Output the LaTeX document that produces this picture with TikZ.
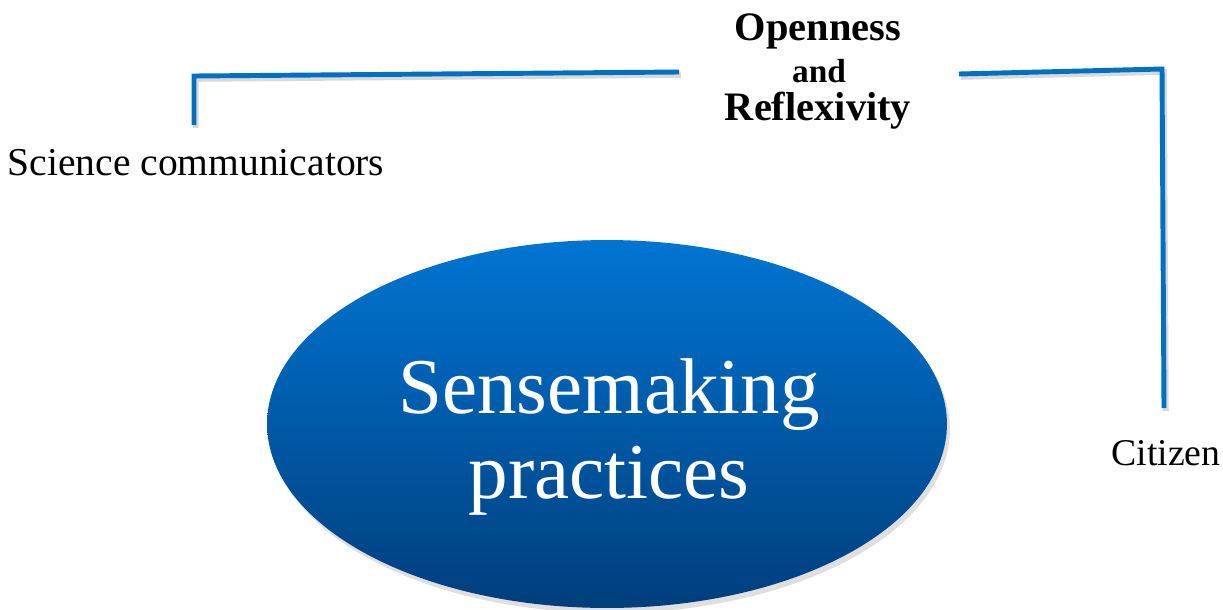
\documentclass[tikz,border=0pt]{standalone}
\usepackage{fontspec}
\setmainfont{Liberation Serif}
\usetikzlibrary{shapes.geometric, shadows, positioning}
\definecolor{blueLine}{RGB}{0,112,192}
\definecolor{blueTop}{RGB}{0,117,210}
\definecolor{blueBottom}{RGB}{0,62,124}

\begin{document}
\begin{tikzpicture}[
    x=0.02cm, y=-0.02cm,
    bracket/.style={line width=2.8pt, draw=blueLine, line join=miter,
        preaction={draw=black, opacity=0.15, line width=3.4pt,
            transform canvas={xshift=1pt, yshift=-1.6pt}}},
    actor/.style={inner sep=0pt, font=\fontsize{22.5}{26}\selectfont},
    heading/.style={inner sep=0pt, font=\bfseries\fontsize{23}{26}\selectfont},
    bigoval/.style={ellipse, minimum width=13.6cm, minimum height=7.36cm, inner sep=0pt,
        top color=blueTop, bottom color=blueBottom,
        drop shadow={opacity=0.25, shadow xshift=0.06cm, shadow yshift=-0.1cm}},
    ovaltext/.style={inner sep=0pt, text=white, align=center,
        font=\fontsize{45}{48}\selectfont}
]
    \useasboundingbox (0,0) rectangle (1223,609);

    % central practice
    \node[bigoval] (sense) at (607,424) {};
    \node[ovaltext] (senseText) at (609,437) {Sensemaking\\practices};

    % heading over the brackets
    \node[heading] (open) at (818,31) {Openness};
    \node[inner sep=0pt, font=\bfseries\fontsize{19}{22}\selectfont] (and) at (819,71) {and};
    \node[heading] (reflex) at (818,111) {Reflexivity};

    % the two groups
    \node[actor] (sci) at (196,163) {Science communicators};
    \node[actor, font=\fontsize{21.5}{25}\selectfont] (citizen) at (1166,453) {Citizen};

    % bracket ends
    \coordinate (openL) at (679,72);
    \coordinate (sciBend) at (194,76);
    \coordinate (sciTop) at (194,125);
    \coordinate (openR) at (959,74);
    \coordinate (citBend) at (1162,69);
    \coordinate (citTop) at (1164,408);

    \draw[bracket] (openL) -- (sciBend) -- (sciTop);
    \draw[bracket] (openR) -- (citBend) -- (citTop);
\end{tikzpicture}
\end{document}
